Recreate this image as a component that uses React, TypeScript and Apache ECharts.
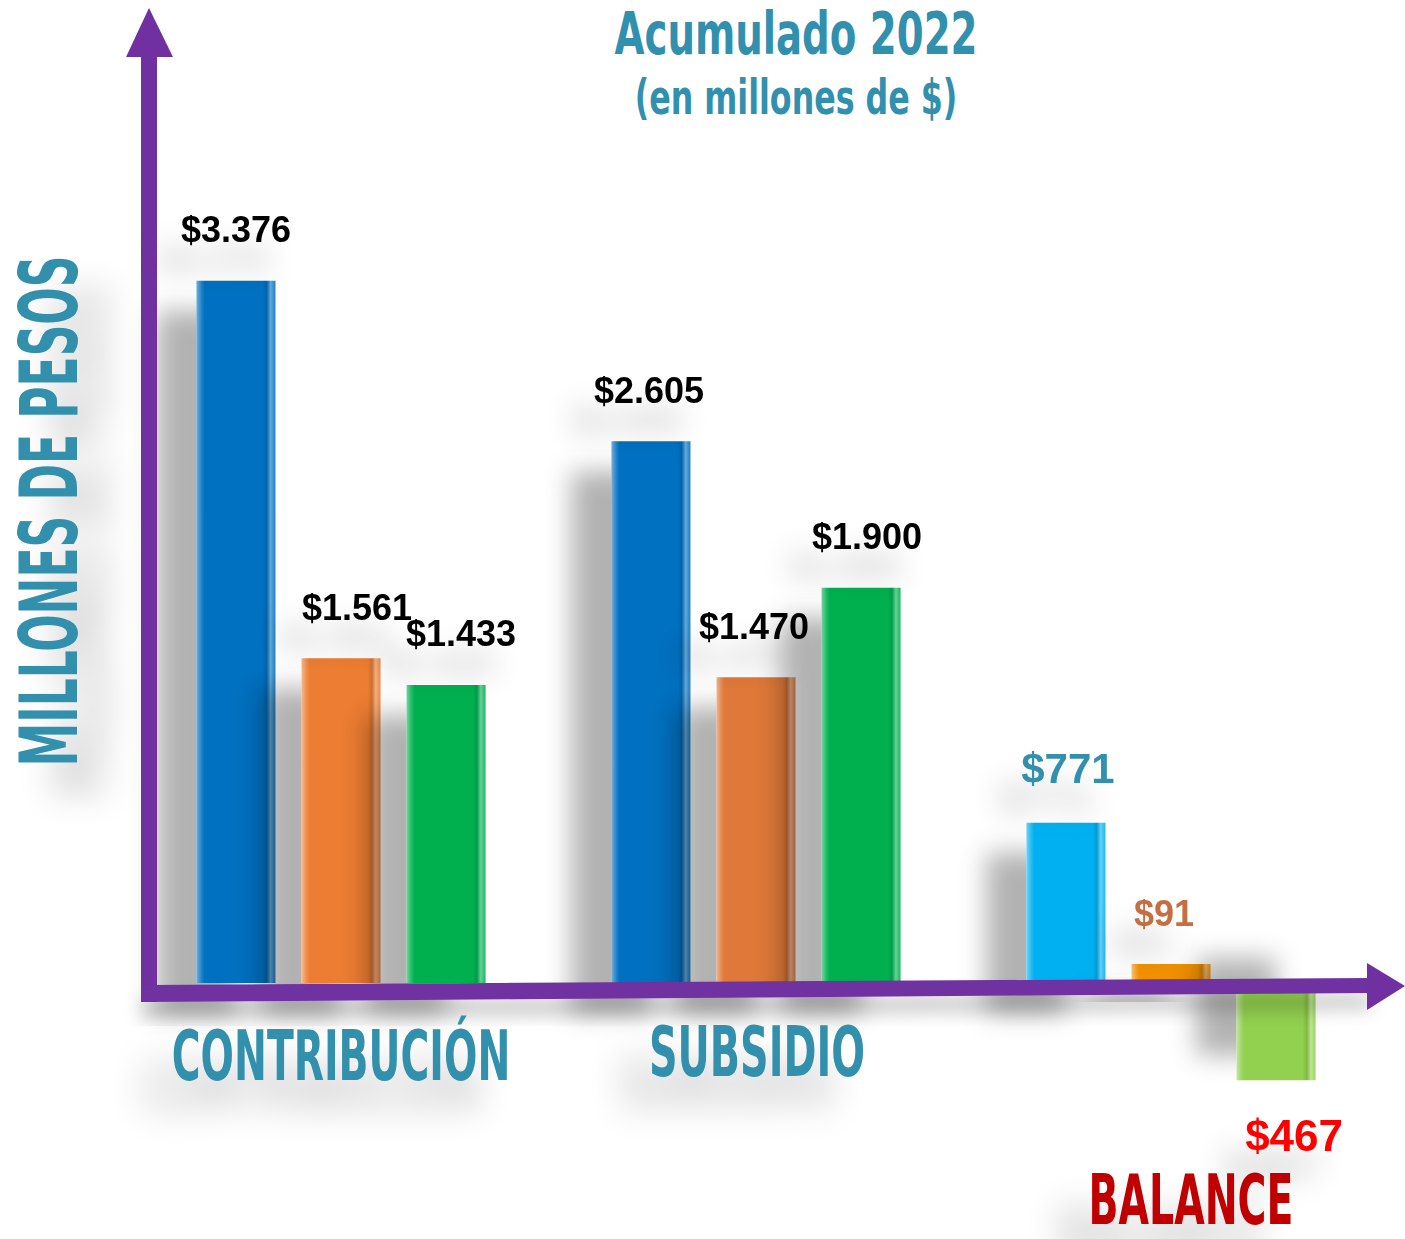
import React, { useEffect, useRef } from "react";
import * as echarts from "echarts";

// ---- data ----
const categories = ["CONTRIBUCIÓN", "SUBSIDIO", "BALANCE"];
const serieA = [3376, 2605, 771];
const serieB = [1561, 1470, 91];
const serieC = [1433, 1900, -467];

const title = "Acumulado 2022";
const subtitle = "(en millones de $)";
const yName = "MILLONES DE PESOS";

// colours per series, per category
const colorsA = ["#0070C0", "#0070C0", "#00B0F0"];
const colorsB = ["#ED7D31", "#DF7838", "#F29100"];
const colorsC = ["#00B050", "#00B050", "#92D050"];
const labelColorsA = ["#000000", "#000000", "#3190AD"];
const labelColorsB = ["#000000", "#000000", "#C46E42"];
const labelColorsC = ["#000000", "#000000", "#FF0000"];
const labelSizesA = [36, 36, 42];
const labelSizesB = [36, 36, 36];
const labelSizesC = [36, 36, 44];
const labelShiftA = [0, -2, 2];
const labelShiftB = [16, -2, -7];
const labelShiftC = [15, 6, 18];

const TEAL = "#3190AD";
const PURPLE = "#7030A0";

function lighten(hex: string, amt: number) {
  const n = parseInt(hex.slice(1), 16);
  let r = (n >> 16) & 255, g = (n >> 8) & 255, b = n & 255;
  r = Math.round(r + (255 - r) * amt);
  g = Math.round(g + (255 - g) * amt);
  b = Math.round(b + (255 - b) * amt);
  return `rgb(${r},${g},${b})`;
}
function darken(hex: string, amt: number) {
  const n = parseInt(hex.slice(1), 16);
  let r = (n >> 16) & 255, g = (n >> 8) & 255, b = n & 255;
  r = Math.round(r * (1 - amt));
  g = Math.round(g * (1 - amt));
  b = Math.round(b * (1 - amt));
  return `rgb(${r},${g},${b})`;
}
function bevel(base: string) {
  return new echarts.graphic.LinearGradient(0, 0, 1, 0, [
    { offset: 0, color: lighten(base, 0.45) },
    { offset: 0.06, color: lighten(base, 0.15) },
    { offset: 0.1, color: base },
    { offset: 0.84, color: base },
    { offset: 0.89, color: darken(base, 0.12) },
    { offset: 0.94, color: lighten(base, 0.4) },
    { offset: 1, color: lighten(base, 0.1) },
  ]);
}

function fmt(v: number) {
  const a = Math.abs(v);
  return "$" + a.toString().replace(/\B(?=(\d{3})+(?!\d))/g, ".");
}

function buildData(values: number[], colors: string[], lColors: string[], lSizes: number[], lShift: number[]) {
  return values.map((v, i) => ({
    value: v,
    itemStyle: {
      color: bevel(colors[i]),
      shadowOffsetY: v < 0 ? -25 : 30,
    },
    label: {
      position: v < 0 ? "bottom" : "top",
      color: lColors[i],
      fontSize: lSizes[i],
      offset: [lShift[i], 0],
    },
  }));
}

const labelPos = [
  { x: 341, y: 1056 },
  { x: 757, y: 1052 },
  { x: 1191, y: 1200 },
];

export default function App() {
  const ref = useRef<HTMLDivElement>(null);
  useEffect(() => {
    document.body.style.margin = "0";
    if (!ref.current) return;
    const chart = echarts.init(ref.current, undefined, { renderer: "svg" });

    const seriesCommon = {
      type: "bar",
      barWidth: 79,
      barGap: "33%",
      itemStyle: {
        shadowBlur: 26,
        shadowColor: "rgba(0,0,0,0.3)",
        shadowOffsetX: -40,
        shadowOffsetY: 30,
      },
      label: {
        show: true,
        distance: 33,
        fontFamily: '"Liberation Sans", Arial, sans-serif',
        fontWeight: "bold",
        formatter: (p: any) => fmt(p.value),
        textShadowColor: "rgba(0,0,0,0.22)",
        textShadowBlur: 28,
        textShadowOffsetX: -22,
        textShadowOffsetY: 30,
      },
      z: 2,
    };

    const textShadow = {
      textShadowColor: "rgba(0,0,0,0.2)",
      textShadowBlur: 32,
      textShadowOffsetX: -30,
      textShadowOffsetY: 32,
    };

    const graphic: any[] = [
      // y axis
      { type: "rect", shape: { x: 141, y: 50, width: 16, height: 952 }, style: { fill: PURPLE }, z: 100 },
      { type: "polygon", shape: { points: [[149, 8], [126, 57], [173, 57]] }, style: { fill: PURPLE }, z: 100 },
      // x axis
      {
        type: "polygon",
        shape: { points: [[141, 985], [1370, 978], [1370, 993], [141, 1002]] },
        style: { fill: PURPLE, shadowBlur: 18, shadowColor: "rgba(0,0,0,0.22)", shadowOffsetY: 16 },
        z: 100,
      },
      { type: "polygon", shape: { points: [[1367, 963], [1405, 986], [1367, 1010]] }, style: { fill: PURPLE }, z: 100 },
      // titles
      {
        type: "text", x: 796, y: 34, scaleX: 0.667, z: 100,
        style: { text: title, fill: TEAL, font: 'bold 58px "DejaVu Sans"', align: "center", verticalAlign: "middle" },
      },
      {
        type: "text", x: 796, y: 97, scaleX: 0.66, z: 100,
        style: { text: subtitle, fill: TEAL, font: 'bold 48px "DejaVu Sans"', align: "center", verticalAlign: "middle" },
      },
      {
        type: "text", x: 49, y: 511, scaleX: 0.55, rotation: Math.PI / 2, z: 100,
        style: { text: yName, fill: TEAL, font: 'bold 80px "DejaVu Sans"', align: "center", verticalAlign: "middle", ...textShadow },
      },
      ...categories.map((c, i) => ({
        type: "text", x: labelPos[i].x, y: labelPos[i].y, scaleX: [0.57, 0.576, 0.571][i], z: 100,
        style: {
          text: c,
          fill: i === 2 ? "#C00000" : TEAL,
          font: 'bold 69px "DejaVu Sans"',
          align: "center",
          verticalAlign: "middle",
          ...textShadow,
        },
      })),
    ];

    chart.setOption({
      animation: false,
      backgroundColor: "#ffffff",
      grid: { left: 133.5, right: 26.5, top: 151, bottom: 48 },
      xAxis: {
        type: "category",
        data: categories,
        axisLine: { show: false },
        axisTick: { show: false },
        axisLabel: { show: false },
        splitLine: { show: false },
      },
      yAxis: {
        type: "value",
        min: -1000,
        max: 4000,
        show: false,
        splitLine: { show: false },
      },
      series: [
        { ...seriesCommon, name: "A", data: buildData(serieA, colorsA, labelColorsA, labelSizesA, labelShiftA) },
        { ...seriesCommon, name: "B", data: buildData(serieB, colorsB, labelColorsB, labelSizesB, labelShiftB) },
        { ...seriesCommon, name: "C", data: buildData(serieC, colorsC, labelColorsC, labelSizesC, labelShiftC) },
      ],
      graphic,
    });
    return () => chart.dispose();
  }, []);
  return <div ref={ref} style={{ width: 1405, height: 1239 }} />;
}
